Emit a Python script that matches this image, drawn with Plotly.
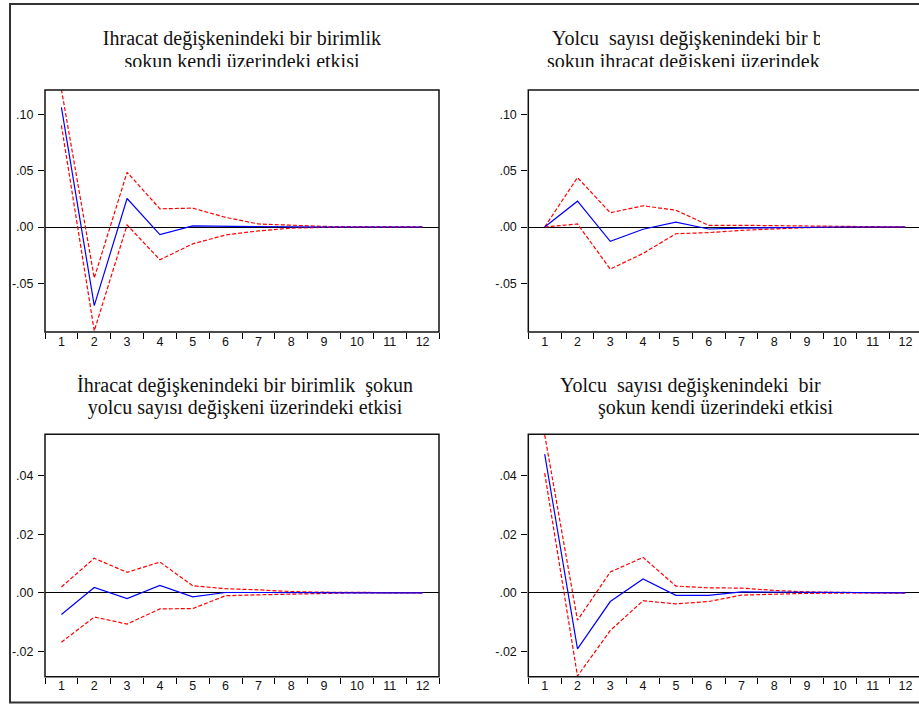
import plotly.graph_objects as go

W, H = 919, 707

# ---------------- data ----------------
periods = [str(i) for i in range(1, 13)]

# Ihracat shock -> Ihracat (top-left)
tl_resp = [0.1065, -0.0700, 0.0254, -0.0068, 0.0010, 0.0005, 0.0002, 0.0001, 0.0, 0.0, 0.0, 0.0]
tl_up = [0.1225, -0.0454, 0.0487, 0.0162, 0.0168, 0.0086, 0.0027, 0.0015, 0.0005, 0.0002, 0.0001, 0.0]
tl_lo = [0.0905, -0.0925, 0.0018, -0.0292, -0.0150, -0.0071, -0.0035, -0.0010, -0.0003, -0.0001, 0.0, 0.0]

# Yolcu shock -> Ihracat (top-right)
tr_resp = [0.0, 0.0230, -0.0127, -0.0020, 0.0044, -0.0018, -0.0010, -0.0005, -0.0002, 0.0, 0.0, 0.0]
tr_up = [0.0, 0.0440, 0.0127, 0.0189, 0.0150, 0.0015, 0.0015, 0.0012, 0.0005, 0.0002, 0.0001, 0.0]
tr_lo = [0.0, 0.0027, -0.0375, -0.0235, -0.0060, -0.0050, -0.0030, -0.0015, -0.0005, -0.0002, -0.0001, 0.0]

# Ihracat shock -> Yolcu (bottom-left)
bl_resp = [-0.0074, 0.0018, -0.0020, 0.0025, -0.0014, 0.0001, 0.0001, 0.0, 0.0, 0.0, 0.0, 0.0]
bl_up = [0.0020, 0.0118, 0.0070, 0.0105, 0.0024, 0.0014, 0.0010, 0.0004, 0.0002, 0.0001, 0.0, 0.0]
bl_lo = [-0.0169, -0.0083, -0.0107, -0.0055, -0.0054, -0.0010, -0.0007, -0.0004, -0.0001, 0.0, 0.0, 0.0]

# Yolcu shock -> Yolcu (bottom-right)
br_resp = [0.0474, -0.0192, -0.0030, 0.0047, -0.0009, -0.0009, 0.0003, 0.0002, 0.0001, 0.0, 0.0, 0.0]
br_up = [0.0540, -0.0094, 0.0071, 0.0121, 0.0023, 0.0017, 0.0016, 0.0008, 0.0003, 0.0001, 0.0, 0.0]
br_lo = [0.0409, -0.0285, -0.0129, -0.0027, -0.0038, -0.0030, -0.0008, -0.0004, -0.0002, -0.0001, 0.0, 0.0]

top_tickvals = [0.10, 0.05, 0.0, -0.05]
top_ticktext = [".10", ".05", ".00", "-.05"]
bot_tickvals = [0.04, 0.02, 0.0, -0.02]
bot_ticktext = [".04", ".02", ".00", "-.02"]

tl_title = ["Ihracat değişkenindeki bir birimlik", "şokun kendi üzerindeki etkisi"]
tr_title = ["Yolcu  sayısı değişkenindeki bir birimlik", "şokun ihracat değişkeni üzerindeki etkisi"]
bl_title = ["İhracat değişkenindeki bir birimlik  şokun", "yolcu sayısı değişkeni üzerindeki etkisi"]
br_title = ["Yolcu  sayısı değişkenindeki  bir birimlik", "şokun kendi üzerindeki etkisi"]

# ---------------- helpers ----------------
def fx(px):
    return px / W

def fy(py):
    return 1 - py / H

RED = "#ff0000"
BLUE = "#0000ff"
TICKFONT = dict(family="Liberation Sans, Arial, sans-serif", size=12.5, color="#111")
TITLEFONT = dict(family="Liberation Serif, Times New Roman, serif", size=20, color="#111")

fig = go.Figure()
layout = {}

RIGHT_END = 11.5 - (921.8 - 919) / 32.8

panels = [
    dict(n=1, resp=tl_resp, up=tl_up, lo=tl_lo, xpx=(45, 439), ypx=(90, 332),
         yr=(-0.0935, 0.122), tv=top_tickvals, tt=top_ticktext, xr=(-0.5, 11.5)),
    dict(n=2, resp=tr_resp, up=tr_up, lo=tr_lo, xpx=(528.3, 919), ypx=(90, 332),
         yr=(-0.0935, 0.122), tv=top_tickvals, tt=top_ticktext, xr=(-0.5, RIGHT_END)),
    dict(n=3, resp=bl_resp, up=bl_up, lo=bl_lo, xpx=(45, 439), ypx=(434.3, 676.7),
         yr=(-0.0287, 0.0542), tv=bot_tickvals, tt=bot_ticktext, xr=(-0.5, 11.5)),
    dict(n=4, resp=br_resp, up=br_up, lo=br_lo, xpx=(528.3, 919), ypx=(434.3, 676.7),
         yr=(-0.0287, 0.0542), tv=bot_tickvals, tt=bot_ticktext, xr=(-0.5, RIGHT_END)),
]

for p in panels:
    n = p["n"]
    xa = "x" if n == 1 else f"x{n}"
    ya = "y" if n == 1 else f"y{n}"
    for series, color, dash in [(p["lo"], RED, "4px,2px"), (p["up"], RED, "4px,2px"),
                                (p["resp"], BLUE, "solid")]:
        fig.add_trace(go.Scatter(x=periods, y=series, mode="lines",
                                 line=dict(color=color, width=1.2, dash=dash),
                                 xaxis=xa, yaxis=ya, showlegend=False, hoverinfo="skip"))
    xkey = "xaxis" if n == 1 else f"xaxis{n}"
    ykey = "yaxis" if n == 1 else f"yaxis{n}"
    layout[xkey] = dict(domain=[fx(p["xpx"][0]), fx(p["xpx"][1])], anchor=ya,
                        type="category", range=list(p["xr"]), tickson="boundaries",
                        ticks="outside", ticklen=6, tickcolor="#000", tickwidth=1,
                        showgrid=False, zeroline=False, showline=False,
                        tickfont=TICKFONT, fixedrange=True)
    layout[ykey] = dict(domain=[fy(p["ypx"][1]), fy(p["ypx"][0])], anchor=xa,
                        range=list(p["yr"]), tickvals=p["tv"], ticktext=p["tt"],
                        ticks="outside", ticklen=6, tickcolor="#000", tickwidth=1,
                        showgrid=False, zeroline=True, zerolinecolor="#000",
                        zerolinewidth=1, showline=False, tickfont=TICKFONT,
                        ticklabelstandoff=2, fixedrange=True)

# titles as text clipped by hidden axes (the original titles are cut off)
title_boxes = [
    (5, (10, 460, 6, 67), [(tl_title[0], 242, 40, "middle center"),
                           (tl_title[1], 242, 62.5, "middle center")]),
    (6, (470, 820, 6, 67), [(tr_title[0], 552, 40, "middle right"),
                            (tr_title[1], 547, 62.5, "middle right")]),
    (7, (10, 460, 366, 428), [(bl_title[0], 245, 386.5, "middle center"),
                              (bl_title[1], 245, 408.5, "middle center")]),
    (8, (470, 823, 366, 428), [(br_title[0], 560, 386.5, "middle right")]),
    (9, (470, 919, 366, 428), [(br_title[1], 598, 408.5, "middle right")]),
]
for n, (x0, x1, y0, y1), lines in title_boxes:
    for text, xp, yp, pos in lines:
        fig.add_trace(go.Scatter(x=[xp], y=[yp], mode="text", text=[text],
                                 textposition=pos, textfont=TITLEFONT, cliponaxis=True,
                                 xaxis=f"x{n}", yaxis=f"y{n}", showlegend=False,
                                 hoverinfo="skip"))
    layout[f"xaxis{n}"] = dict(domain=[fx(x0), fx(x1)], range=[x0, x1], visible=False,
                               anchor=f"y{n}", fixedrange=True)
    layout[f"yaxis{n}"] = dict(domain=[fy(y1), fy(y0)], range=[y1, y0], visible=False,
                               anchor=f"x{n}", fixedrange=True)

shapes = [
    dict(type="rect", xref="paper", yref="paper", x0=fx(10), x1=fx(935),
         y0=fy(702.5), y1=fy(4), line=dict(color="#333", width=2), layer="above"),
]
for p in panels:
    x0, x1 = p["xpx"]
    if x1 >= 919:
        x1 = 921.8
    y0, y1 = p["ypx"]
    shapes.append(dict(type="rect", xref="paper", yref="paper", x0=fx(x0), x1=fx(x1),
                       y0=fy(y1), y1=fy(y0), line=dict(color="#111", width=1.5),
                       layer="above"))

fig.update_layout(
    width=W, height=H,
    margin=dict(l=0, r=0, t=0, b=0),
    paper_bgcolor="white", plot_bgcolor="rgba(0,0,0,0)",
    showlegend=False, shapes=shapes,
    **layout,
)

fig.write_html(
    "out.html",
    config={"displayModeBar": False},
    post_script="document.body.style.margin='0px';document.body.style.overflow='hidden';",
)
